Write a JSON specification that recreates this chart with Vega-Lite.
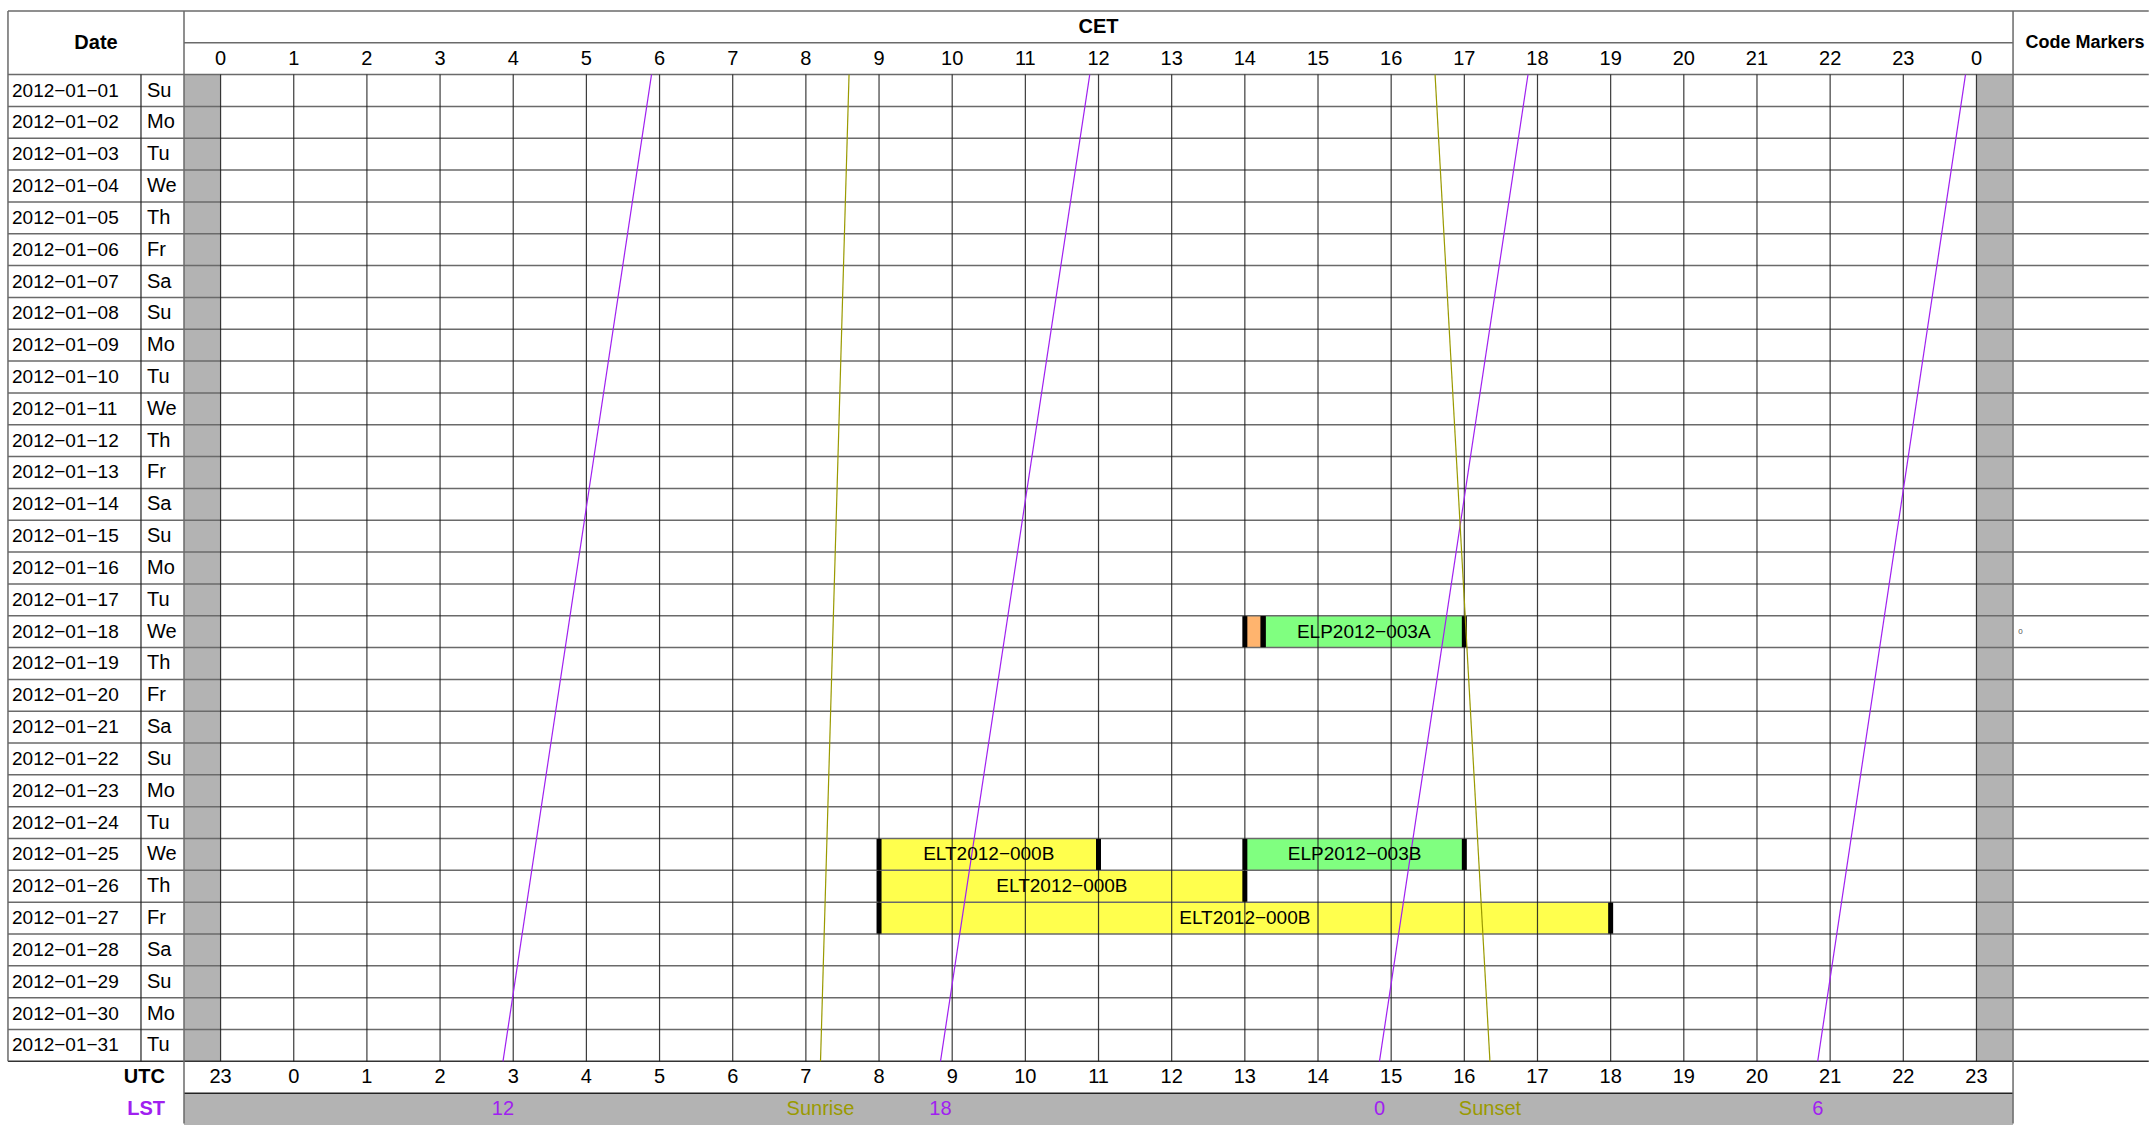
{
  "$schema": "https://vega.github.io/schema/vega-lite/v6.json",
  "width": 2150,
  "height": 1125,
  "autosize": {"type": "fit", "contains": "padding"},
  "padding": 0,
  "background": "white",
  "config": {
    "view": {"stroke": null},
    "text": {"font": "Liberation Sans, Arial, sans-serif", "fontSize": 20, "color": "black"}
  },
  "datasets": {
    "rows": [
      {"date": "2012-01-01", "label": "2012−01−01", "day": "Su"},
      {"date": "2012-01-02", "label": "2012−01−02", "day": "Mo"},
      {"date": "2012-01-03", "label": "2012−01−03", "day": "Tu"},
      {"date": "2012-01-04", "label": "2012−01−04", "day": "We"},
      {"date": "2012-01-05", "label": "2012−01−05", "day": "Th"},
      {"date": "2012-01-06", "label": "2012−01−06", "day": "Fr"},
      {"date": "2012-01-07", "label": "2012−01−07", "day": "Sa"},
      {"date": "2012-01-08", "label": "2012−01−08", "day": "Su"},
      {"date": "2012-01-09", "label": "2012−01−09", "day": "Mo"},
      {"date": "2012-01-10", "label": "2012−01−10", "day": "Tu"},
      {"date": "2012-01-11", "label": "2012−01−11", "day": "We"},
      {"date": "2012-01-12", "label": "2012−01−12", "day": "Th"},
      {"date": "2012-01-13", "label": "2012−01−13", "day": "Fr"},
      {"date": "2012-01-14", "label": "2012−01−14", "day": "Sa"},
      {"date": "2012-01-15", "label": "2012−01−15", "day": "Su"},
      {"date": "2012-01-16", "label": "2012−01−16", "day": "Mo"},
      {"date": "2012-01-17", "label": "2012−01−17", "day": "Tu"},
      {"date": "2012-01-18", "label": "2012−01−18", "day": "We"},
      {"date": "2012-01-19", "label": "2012−01−19", "day": "Th"},
      {"date": "2012-01-20", "label": "2012−01−20", "day": "Fr"},
      {"date": "2012-01-21", "label": "2012−01−21", "day": "Sa"},
      {"date": "2012-01-22", "label": "2012−01−22", "day": "Su"},
      {"date": "2012-01-23", "label": "2012−01−23", "day": "Mo"},
      {"date": "2012-01-24", "label": "2012−01−24", "day": "Tu"},
      {"date": "2012-01-25", "label": "2012−01−25", "day": "We"},
      {"date": "2012-01-26", "label": "2012−01−26", "day": "Th"},
      {"date": "2012-01-27", "label": "2012−01−27", "day": "Fr"},
      {"date": "2012-01-28", "label": "2012−01−28", "day": "Sa"},
      {"date": "2012-01-29", "label": "2012−01−29", "day": "Su"},
      {"date": "2012-01-30", "label": "2012−01−30", "day": "Mo"},
      {"date": "2012-01-31", "label": "2012−01−31", "day": "Tu"}
    ],
    "hours": [
      {"h": 0, "cet": "0", "utc": "23"},
      {"h": 1, "cet": "1", "utc": "0"},
      {"h": 2, "cet": "2", "utc": "1"},
      {"h": 3, "cet": "3", "utc": "2"},
      {"h": 4, "cet": "4", "utc": "3"},
      {"h": 5, "cet": "5", "utc": "4"},
      {"h": 6, "cet": "6", "utc": "5"},
      {"h": 7, "cet": "7", "utc": "6"},
      {"h": 8, "cet": "8", "utc": "7"},
      {"h": 9, "cet": "9", "utc": "8"},
      {"h": 10, "cet": "10", "utc": "9"},
      {"h": 11, "cet": "11", "utc": "10"},
      {"h": 12, "cet": "12", "utc": "11"},
      {"h": 13, "cet": "13", "utc": "12"},
      {"h": 14, "cet": "14", "utc": "13"},
      {"h": 15, "cet": "15", "utc": "14"},
      {"h": 16, "cet": "16", "utc": "15"},
      {"h": 17, "cet": "17", "utc": "16"},
      {"h": 18, "cet": "18", "utc": "17"},
      {"h": 19, "cet": "19", "utc": "18"},
      {"h": 20, "cet": "20", "utc": "19"},
      {"h": 21, "cet": "21", "utc": "20"},
      {"h": 22, "cet": "22", "utc": "21"},
      {"h": 23, "cet": "23", "utc": "22"},
      {"h": 24, "cet": "0", "utc": "23"}
    ],
    "bars": [
      {"date": "2012-01-18", "start": 14.0, "end": 14.25, "kind": "setup", "code": ""},
      {"date": "2012-01-18", "start": 14.25, "end": 17.0, "kind": "ELP", "code": "ELP2012−003A"},
      {"date": "2012-01-25", "start": 9.0, "end": 12.0, "kind": "ELT", "code": "ELT2012−000B"},
      {"date": "2012-01-25", "start": 14.0, "end": 17.0, "kind": "ELP", "code": "ELP2012−003B"},
      {"date": "2012-01-26", "start": 9.0, "end": 14.0, "kind": "ELT", "code": "ELT2012−000B"},
      {"date": "2012-01-27", "start": 9.0, "end": 19.0, "kind": "ELT", "code": "ELT2012−000B"}
    ],
    "curves": [
      {"name": "12", "kind": "LST", "top": 5.89, "bottom": 3.86},
      {"name": "18", "kind": "LST", "top": 11.88, "bottom": 9.84},
      {"name": "0", "kind": "LST", "top": 17.87, "bottom": 15.84},
      {"name": "6", "kind": "LST", "top": 23.85, "bottom": 21.83},
      {"name": "Sunrise", "kind": "Sun", "top": 8.59, "bottom": 8.2},
      {"name": "Sunset", "kind": "Sun", "top": 16.6, "bottom": 17.35}
    ],
    "markers": [
      {"date": "2012-01-18", "marker": "0"}
    ],
    "one": [{}]
  },
  "layer": [
    {
      "data": {"name": "rows"},
      "mark": {"type": "rect", "color": "#b3b3b3"},
      "encoding": {
        "x": {"datum": -0.5, "type": "quantitative", "axis": null, "scale": {"type": "linear", "domain": [-3.015, 26.372], "nice": false, "zero": false}},
        "x2": {"datum": 0},
        "y": {"field": "date", "type": "ordinal", "axis": null, "scale": {"type": "band", "domain": ["CET", "HDR", "2012-01-01", "2012-01-02", "2012-01-03", "2012-01-04", "2012-01-05", "2012-01-06", "2012-01-07", "2012-01-08", "2012-01-09", "2012-01-10", "2012-01-11", "2012-01-12", "2012-01-13", "2012-01-14", "2012-01-15", "2012-01-16", "2012-01-17", "2012-01-18", "2012-01-19", "2012-01-20", "2012-01-21", "2012-01-22", "2012-01-23", "2012-01-24", "2012-01-25", "2012-01-26", "2012-01-27", "2012-01-28", "2012-01-29", "2012-01-30", "2012-01-31", "UTC", "LST"], "paddingInner": 0, "paddingOuter": 0.172, "align": 1}}
      }
    },
    {
      "data": {"name": "rows"},
      "mark": {"type": "rect", "color": "#b3b3b3"},
      "encoding": {
        "x": {"datum": 24, "type": "quantitative", "axis": null},
        "x2": {"datum": 24.5},
        "y": {"field": "date", "type": "ordinal", "axis": null}
      }
    },
    {
      "data": {"name": "one"},
      "mark": {"type": "rect", "color": "#b3b3b3"},
      "encoding": {
        "x": {"datum": -0.5, "type": "quantitative", "axis": null},
        "x2": {"datum": 24.5},
        "y": {"datum": "LST", "type": "ordinal", "axis": null}
      }
    },
    {
      "data": {"name": "bars"},
      "mark": {"type": "rect"},
      "encoding": {
        "x": {"field": "start", "type": "quantitative", "axis": null},
        "x2": {"field": "end"},
        "y": {"field": "date", "type": "ordinal", "axis": null},
        "color": {"field": "kind", "type": "nominal", "legend": null, "scale": {"domain": ["ELT", "ELP", "setup", "LST", "Sun"], "range": ["#ffff4d", "#80ff80", "#ffb46e", "#a020f0", "#9a9a00"]}}
      }
    },
    {
      "data": {"name": "rows"},
      "mark": {"type": "rule", "color": "#6a6a6a", "strokeWidth": 1.5},
      "encoding": {
        "y": {"field": "date", "type": "ordinal", "bandPosition": 0, "axis": null},
        "x": {"datum": -2.906, "type": "quantitative", "axis": null},
        "x2": {"datum": 26.355}
      }
    },
    {
      "data": {"name": "one"},
      "mark": {"type": "rule", "color": "#6a6a6a", "strokeWidth": 1.5},
      "encoding": {
        "y": {"datum": "CET", "type": "ordinal", "bandPosition": 0, "axis": null},
        "x": {"datum": -2.906, "type": "quantitative", "axis": null},
        "x2": {"datum": 26.355}
      }
    },
    {
      "data": {"name": "one"},
      "mark": {"type": "rule", "color": "#333333", "strokeWidth": 1.5},
      "encoding": {
        "y": {"datum": "UTC", "type": "ordinal", "bandPosition": 0, "axis": null},
        "x": {"datum": -2.906, "type": "quantitative", "axis": null},
        "x2": {"datum": 26.355}
      }
    },
    {
      "data": {"name": "one"},
      "mark": {"type": "rule", "color": "#6a6a6a", "strokeWidth": 1.5},
      "encoding": {
        "y": {"datum": "HDR", "type": "ordinal", "bandPosition": 0, "axis": null},
        "x": {"datum": -0.5, "type": "quantitative", "axis": null},
        "x2": {"datum": 24.5}
      }
    },
    {
      "data": {"name": "one"},
      "mark": {"type": "rule", "color": "#222222", "strokeWidth": 1.5},
      "encoding": {
        "y": {"datum": "LST", "type": "ordinal", "bandPosition": 0, "axis": null},
        "x": {"datum": -0.5, "type": "quantitative", "axis": null},
        "x2": {"datum": 24.5}
      }
    },
    {
      "data": {"name": "hours"},
      "mark": {"type": "rule", "color": "#1a1a1a", "strokeWidth": 1.2, "opacity": 0.85},
      "encoding": {
        "x": {"field": "h", "type": "quantitative", "axis": null},
        "y": {"datum": "2012-01-01", "type": "ordinal", "bandPosition": 0, "axis": null},
        "y2": {"datum": "UTC", "bandPosition": 0}
      }
    },
    {
      "data": {"name": "one"},
      "mark": {"type": "rule", "color": "#6a6a6a", "strokeWidth": 1.5},
      "encoding": {
        "x": {"datum": -2.906, "type": "quantitative", "axis": null},
        "y": {"datum": "CET", "type": "ordinal", "bandPosition": 0, "axis": null},
        "y2": {"datum": "UTC", "bandPosition": 0}
      }
    },
    {
      "data": {"name": "one"},
      "mark": {"type": "rule", "color": "#222222", "strokeWidth": 1.2},
      "encoding": {
        "x": {"datum": -1.088, "type": "quantitative", "axis": null},
        "y": {"datum": "2012-01-01", "type": "ordinal", "bandPosition": 0, "axis": null},
        "y2": {"datum": "UTC", "bandPosition": 0}
      }
    },
    {
      "data": {"name": "one"},
      "mark": {"type": "rule", "color": "#6a6a6a", "strokeWidth": 1.5},
      "encoding": {
        "x": {"datum": -0.5, "type": "quantitative", "axis": null},
        "y": {"datum": "CET", "type": "ordinal", "bandPosition": 0, "axis": null},
        "y2": {"datum": "LST", "bandPosition": 0.95}
      }
    },
    {
      "data": {"name": "one"},
      "mark": {"type": "rule", "color": "#6a6a6a", "strokeWidth": 1.5},
      "encoding": {
        "x": {"datum": 24.5, "type": "quantitative", "axis": null},
        "y": {"datum": "CET", "type": "ordinal", "bandPosition": 0, "axis": null},
        "y2": {"datum": "LST", "bandPosition": 0.95}
      }
    },
    {
      "data": {"name": "bars"},
      "transform": [{"fold": ["start", "end"], "as": ["edge", "t"]}],
      "mark": {"type": "tick", "color": "black", "thickness": 5, "size": 31, "opacity": 1},
      "encoding": {
        "x": {"field": "t", "type": "quantitative", "axis": null},
        "y": {"field": "date", "type": "ordinal", "axis": null}
      }
    },
    {
      "data": {"name": "curves"},
      "mark": {"type": "rule", "strokeWidth": 1.2},
      "encoding": {
        "x": {"field": "top", "type": "quantitative", "axis": null},
        "x2": {"field": "bottom"},
        "y": {"datum": "2012-01-01", "type": "ordinal", "bandPosition": 0, "axis": null},
        "y2": {"datum": "UTC", "bandPosition": 0},
        "color": {"field": "kind", "type": "nominal", "legend": null}
      }
    },
    {
      "data": {"name": "rows"},
      "mark": {"type": "text", "align": "left", "fontSize": 19},
      "encoding": {
        "x": {"datum": -2.851, "type": "quantitative", "axis": null},
        "y": {"field": "date", "type": "ordinal", "axis": null},
        "text": {"field": "label"}
      }
    },
    {
      "data": {"name": "rows"},
      "mark": {"type": "text", "align": "left"},
      "encoding": {
        "x": {"datum": -1.006, "type": "quantitative", "axis": null},
        "y": {"field": "date", "type": "ordinal", "axis": null},
        "text": {"field": "day"}
      }
    },
    {
      "data": {"name": "hours"},
      "mark": {"type": "text", "align": "center"},
      "encoding": {
        "x": {"field": "h", "type": "quantitative", "axis": null},
        "y": {"datum": "HDR", "type": "ordinal", "axis": null},
        "text": {"field": "cet"}
      }
    },
    {
      "data": {"name": "hours"},
      "mark": {"type": "text", "align": "center"},
      "encoding": {
        "x": {"field": "h", "type": "quantitative", "axis": null},
        "y": {"datum": "UTC", "type": "ordinal", "axis": null},
        "text": {"field": "utc"}
      }
    },
    {
      "data": {"name": "one"},
      "mark": {"type": "text", "align": "center", "fontWeight": "bold"},
      "encoding": {
        "x": {"datum": -1.703, "type": "quantitative", "axis": null},
        "y": {"datum": "HDR", "type": "ordinal", "bandPosition": 0, "axis": null},
        "text": {"value": "Date"}
      }
    },
    {
      "data": {"name": "one"},
      "mark": {"type": "text", "align": "center", "fontWeight": "bold"},
      "encoding": {
        "x": {"datum": 12, "type": "quantitative", "axis": null},
        "y": {"datum": "CET", "type": "ordinal", "axis": null},
        "text": {"value": "CET"}
      }
    },
    {
      "data": {"name": "one"},
      "mark": {"type": "text", "align": "center", "fontWeight": "bold", "fontSize": 18},
      "encoding": {
        "x": {"datum": 25.484, "type": "quantitative", "axis": null},
        "y": {"datum": "HDR", "type": "ordinal", "bandPosition": 0, "axis": null},
        "text": {"value": "Code Markers"}
      }
    },
    {
      "data": {"name": "one"},
      "mark": {"type": "text", "align": "right", "fontWeight": "bold"},
      "encoding": {
        "x": {"datum": -0.76, "type": "quantitative", "axis": null},
        "y": {"datum": "UTC", "type": "ordinal", "axis": null},
        "text": {"value": "UTC"}
      }
    },
    {
      "data": {"name": "one"},
      "mark": {"type": "text", "align": "right", "fontWeight": "bold", "color": "#a020f0"},
      "encoding": {
        "x": {"datum": -0.76, "type": "quantitative", "axis": null},
        "y": {"datum": "LST", "type": "ordinal", "axis": null},
        "text": {"value": "LST"}
      }
    },
    {
      "data": {"name": "curves"},
      "mark": {"type": "text", "align": "center"},
      "encoding": {
        "x": {"field": "bottom", "type": "quantitative", "axis": null},
        "y": {"datum": "LST", "type": "ordinal", "axis": null},
        "text": {"field": "name"},
        "color": {"field": "kind", "type": "nominal", "legend": null}
      }
    },
    {
      "data": {"name": "bars"},
      "transform": [
        {"filter": "datum.kind !== 'setup'"},
        {"fold": ["start", "end"], "as": ["edge", "t"]},
        {"aggregate": [{"op": "mean", "field": "t", "as": "mid"}], "groupby": ["date", "code"]}
      ],
      "mark": {"type": "text", "align": "center", "color": "black", "fontSize": 19},
      "encoding": {
        "x": {"field": "mid", "type": "quantitative", "axis": null},
        "y": {"field": "date", "type": "ordinal", "axis": null},
        "text": {"field": "code"}
      }
    },
    {
      "data": {"name": "markers"},
      "mark": {"type": "text", "align": "left", "fontSize": 8, "color": "#555555"},
      "encoding": {
        "x": {"datum": 24.57, "type": "quantitative", "axis": null},
        "y": {"field": "date", "type": "ordinal", "axis": null},
        "text": {"field": "marker"}
      }
    }
  ]
}
